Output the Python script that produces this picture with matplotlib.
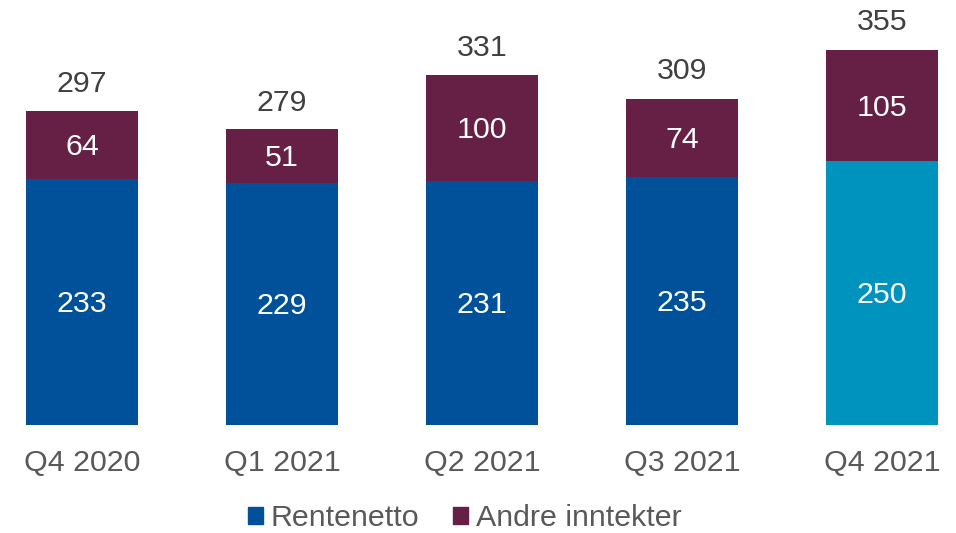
import matplotlib
matplotlib.use("Agg")
import matplotlib.pyplot as plt
from matplotlib.patches import Patch

categories = ["Q4 2020", "Q1 2021", "Q2 2021", "Q3 2021", "Q4 2021"]
rentenetto = [233, 229, 231, 235, 250]
andre = [64, 51, 100, 74, 105]
totals = [297, 279, 331, 309, 355]

blue = "#01519A"
cyan = "#0093BE"
maroon = "#662046"
bottom_colors = [blue, blue, blue, blue, cyan]

plt.rcParams['font.family'] = ['Liberation Sans', 'DejaVu Sans']
fs = 21.9

fig = plt.figure(figsize=(9.56, 5.33), dpi=100)
ax = fig.add_axes([0, (533 - 425) / 533, 1, 425 / 533])
x = list(range(len(categories)))
w = 0.56
ax.bar(x, rentenetto, width=w, color=bottom_colors)
ax.bar(x, andre, width=w, bottom=rentenetto, color=maroon)

for i in x:
    ax.text(i, rentenetto[i] / 2 - 2, str(rentenetto[i]), ha='center', va='center',
            color='white', fontsize=fs)
    ax.text(i, rentenetto[i] + andre[i] / 2 - 2, str(andre[i]), ha='center', va='center',
            color='white', fontsize=fs)
    ax.text(i, totals[i] + 13, str(totals[i]), ha='center', va='bottom',
            color='#404040', fontsize=fs)

ax.set_xlim(-0.41, 4.37)
ax.set_ylim(0, 402.5)
ax.set_xticks(x)
ax.set_xticklabels(categories, fontsize=fs, color='#595959')
ax.tick_params(axis='x', length=0, pad=17)
ax.set_yticks([])
for s in ax.spines.values():
    s.set_visible(False)

handles = [Patch(color=blue, label="Rentenetto"), Patch(color=maroon, label="Andre inntekter")]
leg = fig.legend(handles=handles, loc='center', bbox_to_anchor=(0.486, 0.028), ncol=2,
                 frameon=False, fontsize=fs, handlelength=0.5, handleheight=0.5,
                 handletextpad=0.25, columnspacing=1.1, borderaxespad=0)
for t in leg.get_texts():
    t.set_color('#595959')

fig.savefig("out.png", dpi=100)
